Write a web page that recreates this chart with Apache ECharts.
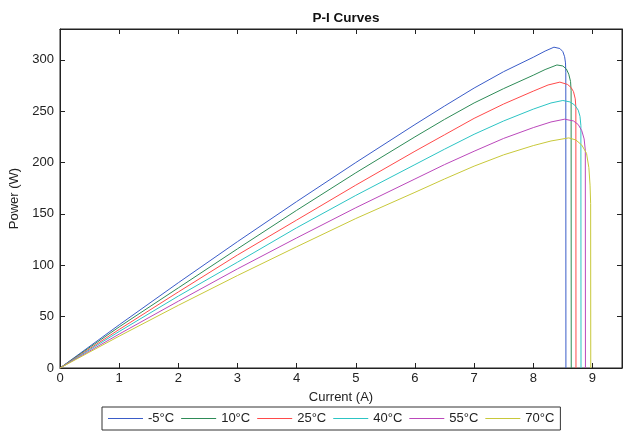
<!DOCTYPE html>
<html>
<head>
<meta charset="utf-8">
<script src="https://cdn.jsdelivr.net/npm/echarts@6/dist/echarts.min.js"></script>
<style>
  html, body { margin: 0; padding: 0; background: #fff; }
  #chart { width: 639px; height: 431px; }
</style>
</head>
<body>
<div id="chart"></div>
<script>
// temperatures (legend)
const temps = ['-5°C', '10°C', '25°C', '40°C', '55°C', '70°C'];
const colors = ['#3a5cc8', '#2e8b57', '#ff4a4a', '#2cc4c4', '#bb48bb', '#c8c83a'];

// current (A) / power (W), one pair per temperature
const cur_m5 = [0, 1, 2, 3, 4, 5, 6, 6.5, 7, 7.5, 8, 8.2, 8.35, 8.45, 8.5, 8.53, 8.545, 8.55, 8.552];
const pow_m5 = [0, 42, 83, 123, 162, 200, 237, 255, 272.5, 288.5, 302.5, 308.5, 312.3, 311, 308, 303, 297, 288, 0];

const cur_10 = [0, 1, 2, 3, 4, 5, 6, 6.5, 7, 7.5, 8, 8.2, 8.4, 8.5, 8.56, 8.6, 8.63, 8.64, 8.642];
const pow_10 = [0, 40, 78, 116, 153.5, 190, 225, 242, 258, 272, 285, 290.5, 295, 294, 291, 286, 279, 270, 0];

const cur_25 = [0, 1, 2, 3, 4, 5, 6, 6.5, 7, 7.5, 8, 8.25, 8.45, 8.58, 8.64, 8.68, 8.71, 8.72, 8.722];
const pow_25 = [0, 37.5, 74, 110, 144, 178, 211, 227, 243, 257, 269.5, 275.5, 278.3, 276, 273, 269, 262, 254, 0];

const cur_40 = [0, 1, 2, 3, 4, 5, 6, 6.5, 7, 7.5, 8, 8.3, 8.5, 8.62, 8.7, 8.76, 8.79, 8.805, 8.807];
const pow_40 = [0, 35.5, 70, 103, 136.5, 168, 198, 213, 227.5, 240.5, 252, 258, 260.4, 259, 256, 251, 245, 236, 0];

const cur_55 = [0, 1, 2, 3, 4, 5, 6, 6.5, 7, 7.5, 8, 8.3, 8.53, 8.68, 8.76, 8.82, 8.86, 8.88, 8.882];
const pow_55 = [0, 33, 65, 96.5, 126.6, 156, 184, 198, 211, 223.5, 234, 239.5, 242.2, 240.5, 237, 231, 223, 212, 0];

const cur_70 = [0, 1, 2, 3, 4, 5, 6, 6.5, 7, 7.5, 8, 8.3, 8.6, 8.72, 8.82, 8.9, 8.94, 8.96, 8.97, 8.972];
const pow_70 = [0, 31, 61, 90, 118, 145.5, 171, 184, 196.5, 207.5, 216.5, 221, 224, 222, 217, 209, 195, 178, 160, 0];

const currents = [cur_m5, cur_10, cur_25, cur_40, cur_55, cur_70];
const powers = [pow_m5, pow_10, pow_25, pow_40, pow_55, pow_70];

const font = 'Liberation Sans, Arial, sans-serif';

const series = temps.map((t, k) => ({
  name: t,
  type: 'line',
  symbol: 'none',
  lineStyle: { width: 1, color: colors[k] },
  itemStyle: { color: colors[k] },
  data: currents[k].map((c, i) => [c, powers[k][i]])
}));

const tickStyle = { show: true, inside: true, length: 5, lineStyle: { color: '#222' } };
const lineStyle = { show: true, onZero: false, lineStyle: { color: '#222', width: 1 } };

let myChart = echarts.init(document.getElementById('chart'));
myChart.setOption({
  animation: false,
  title: {
    text: 'P-I Curves',
    left: 341,
    textAlign: 'center',
    top: 6,
    textStyle: { fontFamily: font, fontSize: 13.5, fontWeight: 'bold', color: '#111' }
  },
  grid: { left: 60, right: 17, top: 29, bottom: 63, show: true, borderColor: '#222', borderWidth: 1 },
  legend: {
    data: temps,
    left: 102,
    top: 407,
    icon: 'rect',
    itemWidth: 35,
    itemHeight: 1,
    itemGap: 7,
    padding: [5, 6, 5, 6],
    borderColor: '#333',
    borderWidth: 1,
    textStyle: { fontFamily: font, fontSize: 13, color: '#222' }
  },
  xAxis: [
    {
      type: 'value', min: 0, max: 9.5, interval: 1, position: 'bottom',
      axisLine: lineStyle, axisTick: tickStyle, splitLine: { show: false },
      axisLabel: { showMaxLabel: false, fontFamily: font, fontSize: 13, color: '#222', margin: 4 },
      name: 'Current (A)', nameLocation: 'middle', nameGap: 23,
      nameTextStyle: { fontFamily: font, fontSize: 13, color: '#222' }
    },
    {
      type: 'value', min: 0, max: 9.5, interval: 1, position: 'top',
      axisLine: lineStyle, axisTick: tickStyle, splitLine: { show: false },
      axisLabel: { show: false }
    }
  ],
  yAxis: [
    {
      type: 'value', min: 0, max: 330, interval: 50, position: 'left',
      axisLine: lineStyle, axisTick: tickStyle, splitLine: { show: false },
      axisLabel: { showMaxLabel: false, fontFamily: font, fontSize: 13, color: '#222', margin: 6 },
      name: 'Power (W)', nameLocation: 'middle', nameGap: 33,
      nameTextStyle: { fontFamily: font, fontSize: 13, color: '#222' }
    },
    {
      type: 'value', min: 0, max: 330, interval: 50, position: 'right',
      axisLine: lineStyle, axisTick: tickStyle, splitLine: { show: false },
      axisLabel: { show: false }
    }
  ],
  series: series
});
</script>
</body>
</html>
